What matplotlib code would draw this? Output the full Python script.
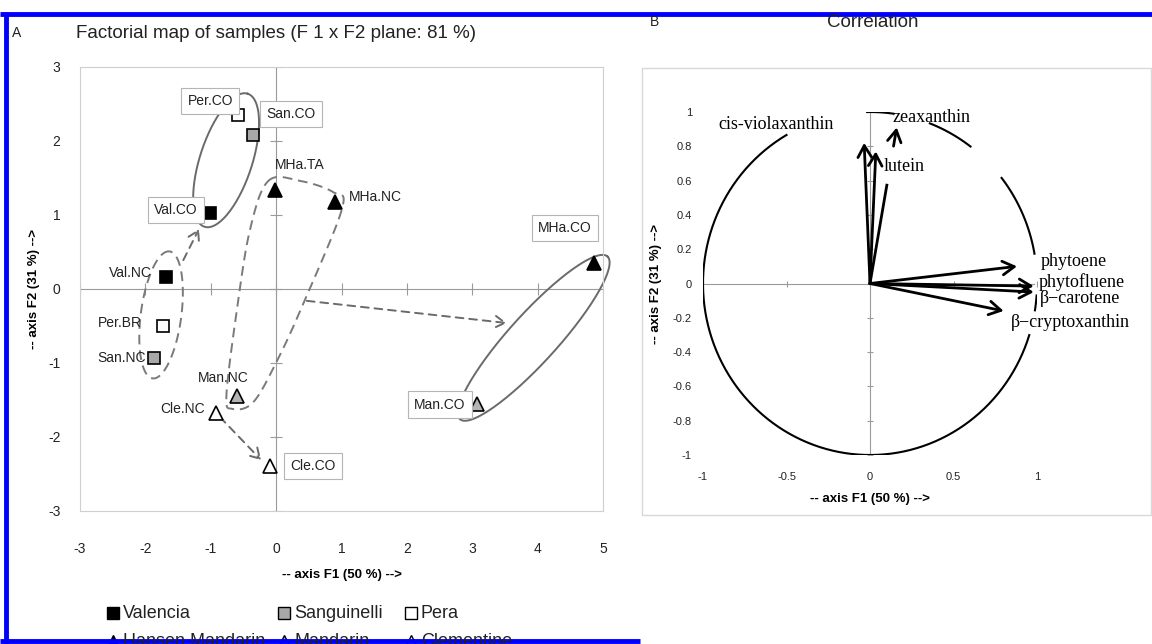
import numpy as np
import matplotlib
matplotlib.use("Agg")
import matplotlib.pyplot as plt
from matplotlib.patches import Rectangle

plt.rcParams['font.family'] = ['Liberation Sans', 'DejaVu Sans']
plt.rcParams['axes.unicode_minus'] = False

# ---- data: factorial map of samples (F1 x F2)
samples = ["Per.CO", "San.CO", "MHa.TA", "MHa.NC", "Val.CO", "Val.NC", "Per.BR",
           "San.NC", "Man.NC", "Cle.NC", "Cle.CO", "Man.CO", "MHa.CO"]
groups = ["Pera", "Sanguinelli", "Hansen Mandarin", "Hansen Mandarin", "Valencia", "Valencia",
          "Pera", "Sanguinelli", "Mandarin", "Clementine", "Clementine", "Mandarin", "Hansen Mandarin"]
f1 = [-0.58, -0.35, -0.02, 0.90, -1.01, -1.68, -1.73, -1.87, -0.60, -0.92, -0.09, 3.07, 4.86]
f2 = [2.35, 2.08, 1.34, 1.18, 1.03, 0.16, -0.50, -0.93, -1.45, -1.68, -2.39, -1.55, 0.35]
boxed = ["Per.CO", "San.CO", "Val.CO", "Cle.CO", "Man.CO", "MHa.CO"]

# ---- data: correlation circle
variables = ["cis-violaxanthin", "lutein", "zeaxanthin", "phytoene", "phytofluene",
             "\u03b2\u2212carotene", "\u03b2\u2212cryptoxanthin"]
corr_f1 = [-0.035, 0.035, 0.16, 0.88, 0.98, 0.98, 0.80]
corr_f2 = [0.82, 0.77, 0.91, 0.10, -0.015, -0.05, -0.16]

legend_order = ["Valencia", "Sanguinelli", "Pera", "Hansen Mandarin", "Mandarin", "Clementine"]

# ---- styles / layout
styles = {
    "Valencia": dict(marker="s", mfc="black"),
    "Sanguinelli": dict(marker="s", mfc="#a8a8a8"),
    "Pera": dict(marker="s", mfc="white"),
    "Hansen Mandarin": dict(marker="^", mfc="black"),
    "Mandarin": dict(marker="^", mfc="#b4b4b4"),
    "Clementine": dict(marker="^", mfc="white"),
}
# label offsets in pixels (dx right, dy down)
label_offset = {"Per.CO": (-28, -14), "San.CO": (38, -21), "MHa.TA": (25, -25),
                "MHa.NC": (40, -5), "Val.CO": (-34, -3), "Val.NC": (-36, -4),
                "Per.BR": (-43, -3), "San.NC": (-32, 0), "Man.NC": (-14, -18),
                "Cle.NC": (-33, -4), "Cle.CO": (43, 0), "Man.CO": (-37, 1),
                "MHa.CO": (-29, -35)}
var_label_pos = {"cis-violaxanthin": (-0.56, 0.93), "zeaxanthin": (0.37, 0.97),
                 "lutein": (0.205, 0.68), "phytoene": (1.22, 0.13),
                 "phytofluene": (1.27, 0.01), "\u03b2\u2212carotene": (1.26, -0.09),
                 "\u03b2\u2212cryptoxanthin": (1.20, -0.23)}
# visible parts of the unit circle (degrees)
circle_arcs = [(120, 342.5), (351, 356), (10, 38), (53, 69), (82, 91)]

W, H = 1152, 644
fig = plt.figure(figsize=(W / 100, H / 100), dpi=100)


def fig_rect(l, t, r, b):
    return [l / W, 1 - b / H, (r - l) / W, (b - t) / H]


def ellipse(cx, cy, a, b, angle, k):
    t = np.linspace(0, 2 * np.pi, 200)
    th = np.radians(angle)
    u, v = a * np.cos(t), b * np.sin(t)
    return cx + u * np.cos(th) - v * np.sin(th), cy + (u * np.sin(th) + v * np.cos(th)) / k


def closed_curve(pts, n=20):
    p = np.asarray(pts)
    m = len(p)
    t = np.linspace(0, 1, n, endpoint=False)[:, None]
    out = []
    for i in range(m):
        p0, p1, p2, p3 = p[i - 1], p[i], p[(i + 1) % m], p[(i + 2) % m]
        out.append(0.5 * (2 * p1 + (-p0 + p2) * t + (2 * p0 - 5 * p1 + 4 * p2 - p3) * t ** 2
                          + (-p0 + 3 * p1 - 3 * p2 + p3) * t ** 3))
    out = np.vstack(out)
    return np.vstack([out, out[:1]])


def fmt(v):
    v = round(float(v), 1) + 0.0
    return f"{v:g}"


# ================= panel A =================
ax = fig.add_axes(fig_rect(80, 67, 603, 511))
ax.set_xlim(-3, 5)
ax.set_ylim(-3, 3)
ax.set_xticks(range(-3, 6))
ax.set_yticks(range(-3, 4))
ax.tick_params(length=0, labelsize=10, colors="#222222")
ax.tick_params(axis="x", pad=22)
ax.tick_params(axis="y", pad=14)
for s in ax.spines.values():
    s.set_color("#cfcfcf")
    s.set_linewidth(0.8)
ax.axhline(0, color="#9a9a9a", lw=0.8, zorder=1)
ax.axvline(0, color="#9a9a9a", lw=0.8, zorder=1)
ax.plot(range(-3, 6), np.zeros(9), ls="none", marker="|", ms=8, color="#9a9a9a", mew=0.8, zorder=1)
ax.plot(np.zeros(7), range(-3, 4), ls="none", marker="_", ms=8, color="#9a9a9a", mew=0.8, zorder=1)
ax.set_xlabel("-- axis F1 (50 %) -->", fontsize=9.5, fontweight="bold", labelpad=10)
ax.set_ylabel("-- axis F2 (31 %) -->", fontsize=9.5, fontweight="bold", labelpad=6)

pos = ax.get_position()
k = (pos.height * H / 6) / (pos.width * W / 8)

# group outlines
ex, ey = ellipse(-0.765, 1.74, 1.07, 0.40, 72, k)
ax.plot(ex, ey, color="#6a6a6a", lw=1.4, zorder=2, clip_on=False)
ex, ey = ellipse(3.94, -0.66, 1.68, 0.37, 47.8, k)
ax.plot(ex, ey, color="#6a6a6a", lw=1.4, zorder=2, clip_on=False)
ex, ey = ellipse(-1.76, -0.35, 0.98, 0.31, 82.4, k)
ax.plot(ex, ey, color="#7a7a7a", lw=1.4, ls=(0, (5, 3)), zorder=2, clip_on=False)
loop = closed_curve([(-0.12, 1.46), (0.37, 1.46), (0.87, 1.31), (1.01, 1.09), (0.44, -0.15),
                     (0.02, -0.96), (-0.35, -1.53), (-0.67, -1.62), (-0.76, -1.43),
                     (-0.60, -0.28), (-0.40, 0.80)])
ax.plot(loop[:, 0], loop[:, 1], color="#7a7a7a", lw=1.4, ls=(0, (5, 3)), zorder=2)

# dashed arrows
for (x0, y0), (x1, y1) in [((-1.42, 0.39), (-1.18, 0.81)),
                           ((0.47, -0.16), (3.53, -0.46)),
                           ((-0.86, -1.73), (-0.23, -2.31))]:
    ax.annotate("", xy=(x1, y1), xytext=(x0, y0),
                arrowprops=dict(arrowstyle="->,head_length=0.5,head_width=0.3", color="#6a6a6a",
                                lw=1.4, ls=(0, (4, 3)), shrinkA=0, shrinkB=0, mutation_scale=14),
                zorder=2)

for name, g, x, y in zip(samples, groups, f1, f2):
    st = styles[g]
    ax.plot(x, y, ls="none", marker=st["marker"], mfc=st["mfc"], mec="black", mew=1.2,
            ms=9 if st["marker"] == "s" else 10, zorder=4)
    dx, dy = label_offset[name]
    bbox = dict(boxstyle="square,pad=0.45", fc="white", ec="#b5b5b5", lw=0.8) if name in boxed else None
    ax.annotate(name, (x, y), xytext=(dx, -dy), textcoords="offset pixels", ha="center",
                va="center", fontsize=10, color="#222222", bbox=bbox, zorder=5)

# ================= panel B =================
bx = fig.add_axes(fig_rect(703, 112, 1037, 455))
bx.set_xlim(-1, 1)
bx.set_ylim(-1, 1)
xt = [-1, -0.5, 0, 0.5, 1]
yt = np.round(np.arange(-1, 1.01, 0.2), 1)
bx.set_xticks(xt)
bx.set_xticklabels([fmt(v) for v in xt])
bx.set_yticks(yt)
bx.set_yticklabels([fmt(v) for v in yt])
bx.tick_params(length=0, labelsize=8, colors="#222222")
bx.tick_params(axis="x", pad=12)
bx.tick_params(axis="y", pad=8)
for s in bx.spines.values():
    s.set_visible(False)
bx.plot([-1, 0.98], [0, 0], color="#9a9a9a", lw=0.8, zorder=1)
bx.plot([0, 0], [-1, 1], color="#9a9a9a", lw=0.8, zorder=1)
bx.plot(xt, np.zeros(len(xt)), ls="none", marker="|", ms=5, color="#9a9a9a", mew=0.8)
bx.plot(np.zeros(len(yt)), yt, ls="none", marker="_", ms=5, color="#9a9a9a", mew=0.8)
bx.set_xlabel("-- axis F1 (50 %) -->", fontsize=9.5, fontweight="bold", labelpad=8)
bx.set_ylabel("-- axis F2 (31 %) -->", fontsize=9.5, fontweight="bold", labelpad=8)

for a0, a1 in circle_arcs:
    th = np.radians(np.linspace(a0, a1, 100))
    bx.plot(np.cos(th), np.sin(th), color="black", lw=1.5, zorder=2)

for name, x, y in zip(variables, corr_f1, corr_f2):
    if name == "zeaxanthin":
        # shaft partly hidden behind the lutein label
        bx.plot([0, x * 0.63], [0, y * 0.63], color="black", lw=2, zorder=3)
        bx.annotate("", xy=(x, y), xytext=(x * 0.88, y * 0.88),
                    arrowprops=dict(arrowstyle="->,head_length=0.6,head_width=0.35", color="black",
                                    lw=2, shrinkA=0, shrinkB=0, mutation_scale=14), zorder=3)
    else:
        bx.annotate("", xy=(x, y), xytext=(0, 0),
                    arrowprops=dict(arrowstyle="->,head_length=0.6,head_width=0.35", color="black",
                                    lw=2, shrinkA=0, shrinkB=0, mutation_scale=14), zorder=3)
    lx, ly = var_label_pos[name]
    bx.text(lx, ly, name, ha="center", va="center", fontsize=13,
            family=["Liberation Serif", "DejaVu Serif"], zorder=4)

# ================= frame, titles, legend =================
ov = fig.add_axes([0, 0, 1, 1], zorder=10)
ov.set_xlim(0, W)
ov.set_ylim(H, 0)
ov.axis("off")
ov.patch.set_visible(False)

ov.add_patch(Rectangle((642, 68), 509, 447, fill=False, ec="#d8d8d8", lw=1))
ov.text(12, 33, "A", fontsize=10, va="center", color="#222222")
ov.text(76, 33, "Factorial map of samples (F 1 x F2 plane: 81 %)", fontsize=13.5,
        va="center", color="#222222")
ov.text(650, 22, "B", fontsize=10, va="center", color="#222222")
ov.text(873, 22, "Correlation", fontsize=13.5, ha="center", va="center", color="#222222")

leg_x = [113, 284, 411]
leg_y = [613, 641]
for i, g in enumerate(legend_order):
    st = styles[g]
    x, y = leg_x[i % 3], leg_y[i // 3]
    ov.plot(x, y, ls="none", marker=st["marker"], mfc=st["mfc"], mec="black", mew=1,
            ms=8 if st["marker"] == "s" else 9)
    ov.text(x + 10, y, g, fontsize=13, va="center", color="#222222")

ov.plot([0, W], [14, 14], color="#0000ff", lw=3.5, solid_capstyle="butt")
ov.plot([6, 6], [12, 644], color="#0000ff", lw=3.5, solid_capstyle="butt")
ov.plot([0, 640], [641, 641], color="#0000ff", lw=3.5, solid_capstyle="butt")

fig.savefig("out.png", dpi=100)
